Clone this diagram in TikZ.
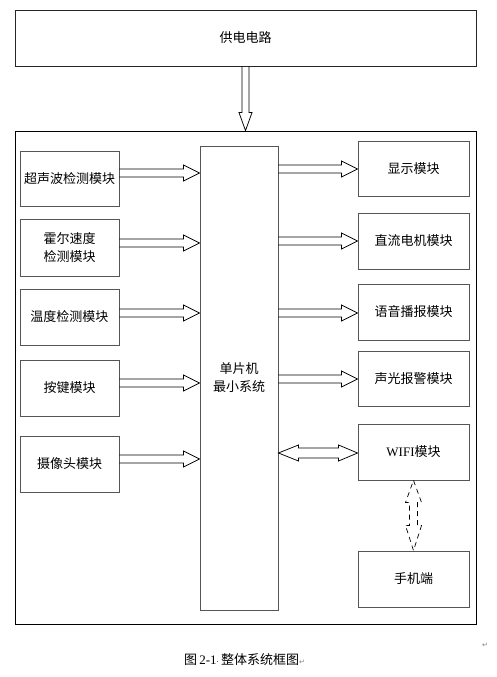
\documentclass[tikz,border=0pt]{standalone}
\usepackage{fontspec}
\setmainfont{Liberation Serif}
\newfontfamily\cjk{Noto Sans CJK SC}
\newfontfamily\dvs{DejaVu Sans}
\usetikzlibrary{calc}
\definecolor{boxgray}{RGB}{85,85,85}
% right-pointing block arrow between two points at the same height
\newcommand\harrow[2]{%
  \draw[arr] let \p1=(#1), \p2=(#2) in
    (\x1,{\y1+4pt}) -- ({\x2-16pt},{\y1+4pt}) -- ({\x2-16pt},{\y1+8pt}) -- (\x2,\y1)
    -- ({\x2-16pt},{\y1-8pt}) -- ({\x2-16pt},{\y1-4pt}) -- (\x1,{\y1-4pt});}
% horizontal double-headed block arrow
\newcommand\hdarrow[2]{%
  \draw[arr] let \p1=(#1), \p2=(#2) in
    (\x1,\y1) -- ({\x1+20pt},{\y1+8pt}) -- ({\x1+20pt},{\y1+5pt}) -- ({\x2-19pt},{\y1+5pt})
    -- ({\x2-19pt},{\y1+8pt}) -- (\x2,\y1) -- ({\x2-19pt},{\y1-8pt}) -- ({\x2-19pt},{\y1-5pt})
    -- ({\x1+20pt},{\y1-5pt}) -- ({\x1+20pt},{\y1-8pt}) -- cycle;}
\begin{document}
\begin{tikzpicture}[x=1pt,y=-1pt,
  box/.style={draw=boxgray, line width=0.9pt, inner sep=0pt, align=center,
    font=\cjk\fontsize{13}{18}\selectfont},
  arr/.style={draw=black, line width=0.75pt, line join=miter},
  lbox/.style={box, minimum width=99pt},
  rbox/.style={box, minimum width=111pt}]
\useasboundingbox (0,0) rectangle (497,677);
% power supply
\node[box, draw=black!85, minimum width=461pt, minimum height=56pt] (pw) at (245.5,38) {供电电路};
% outer frame
\node[draw=black, line width=0.8pt, minimum width=461pt, minimum height=493pt, inner sep=0pt] (outer) at (245.5,377.5) {};
% left modules
\node[lbox, minimum height=55pt] (L1) at (69.5,178.5) {超声波检测模块};
\node[lbox, minimum height=57pt] (L2) at (69.5,247.5) {霍尔速度\\检测模块};
\node[lbox, minimum height=56pt] (L3) at (69.5,317) {温度检测模块};
\node[lbox, minimum height=56pt] (L4) at (69.5,388) {按键模块};
\node[lbox, minimum height=56pt] (L5) at (69.5,464) {摄像头模块};
% MCU
\node[box, minimum width=78pt, minimum height=464pt] (C) at (239,378) {单片机\\最小系统};
% right modules
\node[rbox, minimum height=55pt] (R1) at (413.5,168.5) {显示模块};
\node[rbox, minimum height=56pt] (R2) at (413.5,241) {直流电机模块};
\node[rbox, minimum height=56pt] (R3) at (413.5,312) {语音播报模块};
\node[rbox, minimum height=55pt] (R4) at (413.5,378.5) {声光报警模块};
\node[rbox, minimum height=56pt] (R5) at (413.5,452) {\fontspec{Liberation Serif}WIFI\cjk 模块};
\node[rbox, minimum height=56pt] (R6) at (413.5,579) {手机端};
% heights of arrows
\coordinate (a1) at (0,173);
\coordinate (a2) at (0,243);
\coordinate (a3) at (0,313);
\coordinate (a4) at (0,383);
\coordinate (a5) at (0,459);
\coordinate (b1) at (0,169);
\coordinate (b2) at (0,241);
\coordinate (b3) at (0,313);
\coordinate (b4) at (0,379);
\coordinate (b5) at (0,453);
% power arrow
\draw[arr] let \p1=(pw.south), \p2=(outer.north) in
  ({\x1-3.5pt},\y1) -- ({\x1-3.5pt},{\y2+18pt}) -- ({\x1-6.5pt},{\y2+18pt}) -- (\x1,\y2)
  -- ({\x1+6.5pt},{\y2+18pt}) -- ({\x1+3.5pt},{\y2+18pt}) -- ({\x1+3.5pt},\y1);
% inputs
\harrow{L1.east |- a1}{C.west |- a1}
\harrow{L2.east |- a2}{C.west |- a2}
\harrow{L3.east |- a3}{C.west |- a3}
\harrow{L4.east |- a4}{C.west |- a4}
\harrow{L5.east |- a5}{C.west |- a5}
% outputs
\harrow{C.east |- b1}{R1.west |- b1}
\harrow{C.east |- b2}{R2.west |- b2}
\harrow{C.east |- b3}{R3.west |- b3}
\harrow{C.east |- b4}{R4.west |- b4}
\hdarrow{C.east |- b5}{R5.west |- b5}
% wireless link
\draw[arr, line width=0.7pt, dashed, dash pattern=on 5pt off 4pt] let \p1=(R5.south), \p2=(R6.north) in
  (\x1,\y1) -- ({\x1+8pt},{\y1-22pt}) -- ({\x1+4pt},{\y1-22pt}) -- ({\x1+4pt},{\y2+25pt})
  -- ({\x1+8pt},{\y2+25pt}) -- (\x2,\y2) -- ({\x1-8pt},{\y2+25pt}) -- ({\x1-4pt},{\y2+25pt})
  -- ({\x1-4pt},{\y1-22pt}) -- ({\x1-8pt},{\y1-22pt}) -- cycle;
% caption
\node[anchor=west, inner sep=0pt, font=\fontsize{13}{16}\selectfont] (cap) at (184,660)
  {{\cjk 图}\,2-1{\dvs\fontsize{7}{8}\selectfont\textperiodcentered}\,{\cjk 整体系统框图}{\dvs\fontsize{7}{8}\selectfont\color{gray}↵}};
\node[inner sep=0pt, font=\dvs\fontsize{7}{8}\selectfont, text=gray] (pm) at (485,645) {↵};
\end{tikzpicture}
\end{document}
